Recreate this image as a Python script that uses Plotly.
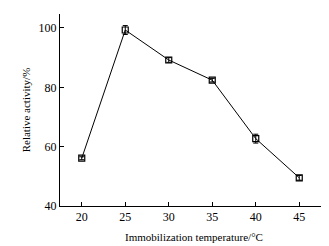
import plotly.graph_objects as go

temperature = [20, 25, 30, 35, 40, 45]
activity = [56.1, 99.3, 89.2, 82.4, 62.7, 49.5]
error = [0.5, 1.5, 0.8, 0.6, 1.5, 0.8]
x_ticks = [20, 25, 30, 35, 40, 45]
y_ticks = [40, 60, 80, 100]
x_title = "Immobilization temperature/°C"
y_title = "Relative activity/%"

fig = go.Figure()
fig.add_trace(go.Scatter(
    x=temperature, y=activity,
    mode="lines+markers",
    line=dict(color="black", width=1),
    marker=dict(symbol="square-open", size=6, color="black", line=dict(width=1.2)),
    error_y=dict(type="data", array=error, visible=True, color="black", thickness=1, width=2.5),
    showlegend=False,
))

font_family = "Liberation Serif"
# page body has an 8px default margin, so the figure is sized to fit the window
fig.update_layout(
    width=321, height=238,
    margin=dict(l=52, r=8, t=6, b=40),
    paper_bgcolor="white", plot_bgcolor="white",
    font=dict(family=font_family, size=11, color="black"),
)
fig.update_xaxes(
    range=[17.5, 47.5], tickvals=x_ticks, ticks="inside", ticklen=4,
    tickcolor="black", showline=True, linecolor="black", linewidth=1,
    showgrid=False, zeroline=False, mirror=False, automargin=False,
    tickfont=dict(size=12),
)
fig.update_yaxes(
    range=[40, 104.7], tickvals=y_ticks, ticks="inside", ticklen=4,
    tickcolor="black", showline=True, linecolor="black", linewidth=1,
    showgrid=False, zeroline=False, mirror=False, automargin=False,
    title=dict(text=y_title, font=dict(size=11), standoff=5),
    tickfont=dict(size=12),
)
fig.add_annotation(
    text=x_title, xref="paper", yref="paper", x=0.515, y=-31 / 192,
    xanchor="center", yanchor="middle", showarrow=False,
    font=dict(family=font_family, size=11, color="black"),
)

fig.write_html("out.html")
